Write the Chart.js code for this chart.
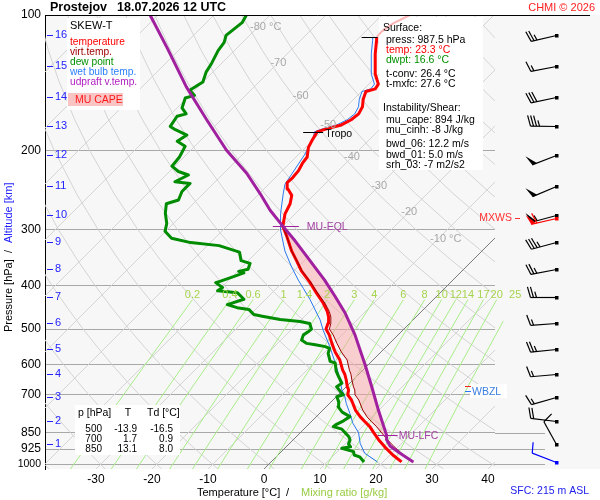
<!DOCTYPE html>
<html lang="cs">
<head>
<meta charset="UTF-8" />
<title>Prostejov 18.07.2026 12 UTC - SKEW-T</title>
<script src="https://cdn.jsdelivr.net/npm/chart.js"></script>
<style>
  body { margin: 0; background: #fff; }
  canvas { display: block; }
</style>
</head>
<body>
<canvas id="skewt" width="600" height="500"></canvas>
<script>
// ---- axes ----
const presTicks = [100, 200, 300, 400, 500, 600, 700, 850, 925, 1000];
const tempTicks = [-30, -20, -10, 0, 10, 20, 30, 40];
const altKm = [1, 2, 3, 4, 5, 6, 7, 8, 9, 10, 11, 12, 13, 14, 15, 16];
const altPres = [901, 802, 709, 630, 553, 484, 424, 368, 320, 278, 240, 205, 177, 152, 130, 111];
const mixVals = [0.2, 0.4, 0.6, 1, 1.4, 2, 3, 4, 6, 8, 10, 12, 14, 17, 20, 25];

// ---- sounding ----
const tempPres = [987.5, 953, 914, 885, 850, 825, 804, 784, 757, 719, 700, 683, 672, 649, 630, 617, 586, 562, 538, 515,
  500, 485, 470, 457, 438, 416, 393, 371, 352, 335, 312, 295, 277, 263, 252, 244, 236, 230, 222, 214,
  207, 197, 190, 182, 179, 176, 171, 166, 160, 154, 148, 146, 142.5, 135.5, 129, 122, 114, 112];
const tempVals = [23.3, 20.5, 17.6, 15.5, 13.1, 11.4, 9.6, 7.9, 5.8, 3.3, 1.7, 1.0, 0.2, -1.2, -2.5, -3.6, -5.9, -8.2, -10.3, -12.3,
  -13.9, -14.6, -15.6, -16.8, -19.0, -22.0, -25.2, -28.7, -31.4, -34.0, -37.3, -40.0, -41.8, -42.7, -43.9, -45.7, -47.0, -46.9, -47.1, -47.7,
  -48.0, -49.5, -50.1, -50.7, -49.5, -47.7, -46.8, -46.5, -47.1, -48.3, -49.2, -48.0, -48.3, -50.6, -52.3, -54.3, -56.4, -57.0];
const tempExtPres = [112, 108.9, 104.4, 100];
const tempExtVals = [-57.0, -57.1, -56.5, -55.0];

const tvPres = [987.5, 953, 914, 885, 850, 825, 804, 784, 757, 719, 700, 683, 672, 649, 630, 617, 586, 562, 538, 515,
  500, 485, 470, 457, 438, 416, 393, 371, 352, 335, 312, 295];
const tvVals = [25.4, 22.4, 19.3, 17.1, 14.5, 12.6, 10.8, 9.1, 7.1, 4.6, 3.0, 2.1, 1.3, -0.2, -1.4, -2.4, -4.6, -7.1, -9.4, -11.6,
  -13.3, -14.1, -15.2, -16.45, -18.7, -21.8, -25.05, -28.6, -31.35, -34.0, -37.3, -40.0];

const dewPres = [987.5, 962, 953, 937, 921, 914, 900, 883, 868, 850, 835, 824, 817, 800, 783, 765, 744, 725, 707, 700,
  695, 672, 660, 640, 620, 595, 590, 566, 552, 547, 542, 538, 529, 515, 507, 500, 486, 481, 476, 468,
  464, 452, 448, 441, 429, 415, 411, 404, 394, 391, 382, 375, 372, 368, 357, 352, 337, 326, 321, 314,
  303, 291, 276, 263, 258, 247, 237, 235, 227, 223, 217, 207, 196, 191, 185, 180, 177, 168, 166, 161,
  153, 151, 147, 141, 134, 128, 120, 115, 111, 104, 100];
const dewVals = [16.6, 14.9, 13.6, 12.9, 10.2, 11.5, 10.6, 10.2, 9.4, 8.0, 6.8, 4.8, 4.9, 5.6, 6.0, 3.8, 2.1, 1.3, 0.1, 0.9,
  0.4, -1.7, -1.4, -3.0, -4.6, -6.2, -7.4, -9.2, -9.8, -10.9, -13.0, -14.8, -16.3, -16.9, -16.6, -16.5, -17.8, -19.9, -23.8, -27.6,
  -29.4, -31.2, -33.6, -35.9, -33.9, -36.2, -40.1, -39.8, -41.9, -41.3, -39.8, -38.6, -39.8, -38.5, -39.2, -41.3, -43.1, -47.9, -53.5, -57.7,
  -60.1, -61.2, -63.3, -64.8, -63.3, -64.2, -64.2, -67.2, -66.0, -68.4, -70.5, -70.8, -71.7, -74.0, -73.4, -76.4, -77.9, -78.5, -77.3, -79.1,
  -80.3, -79.1, -80.9, -80.0, -81.2, -81.8, -82.9, -83.3, -84.2, -83.6, -84.2];

const wbPres = [987.5, 945, 898, 850, 810, 770, 732, 700, 683, 627, 600, 547, 503, 477, 430, 406, 389, 364, 335, 301,
  277, 250, 238, 226, 204, 187, 182, 179, 176, 171, 166, 160, 154, 148, 146, 142.5, 135.5, 129, 122, 114, 112];
const wbVals = [19.0, 15.2, 12.6, 10.4, 7.7, 5.4, 3.0, 1.1, -0.2, -3.8, -5.8, -10.1, -14.2, -16.6, -22.0, -25.2, -27.6, -31.1, -35.2, -39.7,
  -42.6, -45.7, -47.1, -47.7, -48.9, -50.4, -51.2, -50.2, -48.5, -47.5, -47.2, -47.8, -49.0, -49.9, -48.8, -49.0, -51.3, -53.0, -55.0, -57.1, -57.7];

const parcelPres = [987.5, 945, 910, 880, 862, 757, 671, 601, 515, 461, 423, 389, 352, 318, 295, 272, 250, 225, 200, 171, 144.5, 119, 100];
const parcelVals = [25.4, 21.5, 18.4, 16.6, 15.9, 9.9, 4.5, -0.5, -7.7, -13.3, -18.1, -22.9, -29.0, -35.2, -40.0, -45.1, -49.8, -55.9, -63.6, -72.6, -82.1, -92.2, -101.4];

const lfcPres = 862, elPres = 295, tropoPres = 182, topPres = 112, flPres = 669, wbzPres = 686;

// wind at surface and every km
const windPres = [987.5, 901, 802, 709, 630, 553, 484, 424, 368, 320, 278, 240, 205, 177, 152, 130, 111];
const windDir = [291, 331, 277, 254, 265, 264, 266, 270, 259, 255, 255, 247, 249, 271, 258, 259, 257];
const windSpd = [10, 10, 20, 15, 15, 25, 15, 25, 25, 35, 55, 50, 50, 35, 30, 15, 25];
const mxwsPres = 282.6, mxwsDir = 257, mxwsSpd = 60;

const tableRows = [["500", "-13.9", "-16.5"], ["700", "1.7", "0.9"], ["850", "13.1", "8.0"]];
const isoLabelT = [-80, -70, -60, -50, -40, -30, -20, -10];
const isoLabelP = [106.3, 127.6, 151.6, 175.5, 207, 240, 274, 315];

// ---- skew-T geometry ----
const P_TOP = 100, P_BOT = 1024;
const X_MIN = -39.1, X_MAX = 41.25;
const AREA_W = 450, AREA_H = 454;
const SKEW = (AREA_H / Math.log(P_BOT / P_TOP)) / (AREA_W / (X_MAX - X_MIN));
const skew = (t, p) => t + SKEW * Math.log(P_BOT / p);
const toPts = (pres, vals) => pres.map((p, i) => ({ x: skew(vals[i], p), y: p }));

function atP(pres, vals, p) {
    for (let i = 0; i < pres.length - 1; i++) {
        if (p <= pres[i] && p >= pres[i + 1]) {
            const f = Math.log(pres[i] / p) / Math.log(pres[i] / pres[i + 1]);
            return vals[i] + f * (vals[i + 1] - vals[i]);
        }
    }
    return vals[vals.length - 1];
}
function dewFromMix(w, p) {
    const l = Math.log(w * p / (622 + w) / 6.112);
    return 243.5 * l / (17.67 - l);
}

function lineDs(data, color, width, order, extra) {
    return Object.assign({ data, showLine: true, borderColor: color, borderWidth: width, pointRadius: 0,
        fill: false, tension: 0, order, borderJoinStyle: "round" }, extra || {});
}

const datasets = [];
// isotherms
for (let t = -130; t <= 40; t += 10) {
    datasets.push(lineDs([{ x: skew(t, P_BOT), y: P_BOT }, { x: skew(t, P_TOP), y: P_TOP }],
        t === 0 ? "#7a7a7a" : "#d4d4d4", 1, t === 0 ? 9 : 10));
}
// dry adiabats
const adiaLevels = [1024, 1000, 950, 900, 850, 800, 750, 700, 650, 600, 550, 500, 450, 400, 350, 300, 250, 200, 170, 140, 120, 100];
for (let th = 233.15; th <= 473.15; th += 10) {
    datasets.push(lineDs(adiaLevels.map(p => ({ x: skew(th * Math.pow(p / 1000, 0.2857) - 273.15, p), y: p })), "#d4d4d4", 1, 10));
}
// mixing ratio lines
const mixLevels = [1024, 950, 850, 750, 650, 550, 480, 430];
for (const w of mixVals) {
    datasets.push(lineDs(mixLevels.map(p => ({ x: skew(dewFromMix(w, p), p), y: p })), "#a8ee88", 1, 8, { clip: false }));
}

// CAPE polygon: parcel up from LFC to EL, environment Tv back down
const capeUp = parcelPres.map((p, i) => ({ x: skew(parcelVals[i], p), y: p })).filter(d => d.y <= lfcPres && d.y >= elPres);
const capeDown = tvPres.map((p, i) => ({ x: skew(tvVals[i], p), y: p })).filter(d => d.y <= lfcPres && d.y >= elPres).reverse();

datasets.push(lineDs(capeUp.concat(capeDown), "rgba(0,0,0,0)", 1, 6,
    { fill: "shape", backgroundColor: "rgba(248,160,160,0.48)", profile: true }));
datasets.push(lineDs(toPts(wbPres, wbVals), "#2a78f0", 1, 5, { profile: true }));
datasets.push(lineDs(toPts(dewPres, dewVals), "#008c00", 3, 4, { profile: true }));
datasets.push(lineDs(toPts(tempExtPres, tempExtVals), "#ffb4b4", 2, 3, { profile: true }));
datasets.push(lineDs(toPts(tempPres, tempVals), "#ff0000", 3, 3, { profile: true }));
datasets.push(lineDs(toPts(tvPres, tvVals), "#9a0000", 1, 2, { profile: true }));
datasets.push(lineDs(toPts(parcelPres, parcelVals), "#a0209f", 3, 1, { profile: true }));

// ---- drawing helpers ----
const FONT = "'Liberation Sans', Arial, sans-serif";
function text(ctx, s, x, y, color, size, align, bold) {
    ctx.font = (bold ? "bold " : "") + size + "px " + FONT;
    ctx.fillStyle = color;
    ctx.textAlign = align || "left";
    ctx.textBaseline = "middle";
    ctx.fillText(s, x, y);
}
function hline(ctx, x1, x2, y, color) {
    ctx.strokeStyle = color;
    ctx.lineWidth = 1;
    ctx.beginPath();
    ctx.moveTo(x1, Math.round(y) + 0.5);
    ctx.lineTo(x2, Math.round(y) + 0.5);
    ctx.stroke();
}
function drawBarb(ctx, x0, y0, dir, spd, color) {
    const L = 26, B = 11, step = 3;
    const x = Math.round(x0) + 0.5, y = Math.round(y0) + 0.5;
    const a = dir * Math.PI / 180;
    const sx = Math.sin(a), sy = -Math.cos(a);
    const nx = -sy, ny = sx;
    const tx = x + L * sx, ty = y + L * sy;
    ctx.strokeStyle = color;
    ctx.fillStyle = color;
    ctx.lineWidth = 1.2;
    ctx.beginPath();
    ctx.moveTo(x, y);
    ctx.lineTo(tx, ty);
    ctx.stroke();
    ctx.fillRect(x - 1.5, y - 1.5, 3.5, 3.5);
    let rest = Math.round(spd / 5) * 5, pos = 0;
    while (rest >= 50) {
        const ax = tx - pos * sx, ay = ty - pos * sy;
        ctx.beginPath();
        ctx.moveTo(ax, ay);
        ctx.lineTo(ax + B * (0.95 * nx + 0.3 * sx), ay + B * (0.95 * ny + 0.3 * sy));
        ctx.lineTo(tx - (pos + 5) * sx, ty - (pos + 5) * sy);
        ctx.closePath();
        ctx.fill();
        pos += 6;
        rest -= 50;
    }
    if (pos === 0 && rest < 10) pos = step;
    while (rest >= 5) {
        const len = rest >= 10 ? B : B * 0.55;
        const qx = tx - pos * sx, qy = ty - pos * sy;
        ctx.beginPath();
        ctx.moveTo(qx, qy);
        ctx.lineTo(qx + len * (0.96 * nx + 0.28 * sx), qy + len * (0.96 * ny + 0.28 * sy));
        ctx.stroke();
        pos += step;
        rest -= rest >= 10 ? 10 : 5;
    }
}

let boxesDrawn = false;
const skewPlugin = {
    id: "skewt",
    beforeDraw(chart) {
        const { ctx, chartArea: a } = chart;
        ctx.save();
        ctx.fillStyle = "#ffffff";
        ctx.fillRect(0, 0, chart.width, chart.height);
        ctx.fillStyle = "#f7f7f7";
        ctx.fillRect(a.left, a.top, chart.width - a.left, a.bottom - a.top);
        ctx.restore();
        boxesDrawn = false;
    },
    beforeDatasetDraw(chart, args) {
        if (boxesDrawn || !chart.data.datasets[args.index].profile) return;
        boxesDrawn = true;
        const ctx = chart.ctx;
        ctx.save();
        ctx.fillStyle = "#ffffff";
        ctx.fillRect(67, 18, 73, 92);
        ctx.fillRect(379, 17, 104, 153);
        ctx.fillRect(75, 405, 105, 50);
        ctx.fillRect(470, 384, 37, 14);
        ctx.restore();
    },
    afterDraw(chart) {
        const { ctx, chartArea: a } = chart;
        const xs = chart.scales.x, ys = chart.scales.y;
        const X = (t, p) => xs.getPixelForValue(skew(t, p));
        const Y = p => ys.getPixelForValue(p);
        ctx.save();

        hline(ctx, a.left, 590, Y(100), "#000");
        for (const p of [850, 925, 1000]) hline(ctx, a.right, a.right + 50, Y(p), "#a8a8a8");

        // isotherm labels
        isoLabelT.forEach((t, i) => {
            ctx.font = "11px " + FONT;
            const w = ctx.measureText(String(t)).width;
            const s = (t === -80 || t === -10) ? t + " °C" : String(t);
            text(ctx, s, X(t, isoLabelP[i]) - w / 2, Y(isoLabelP[i]), "#a8a8a8", 11);
        });
        // mixing ratio labels
        mixVals.forEach(w => {
            text(ctx, String(w), X(dewFromMix(w, 430), 430), Y(430) - 5, "#a6d44e", 11, "center");
        });

        // altitude ticks
        altKm.forEach((k, i) => {
            const y = Y(altPres[i]);
            hline(ctx, a.left + 2, a.left + 8, y, "#2222ff");
            text(ctx, String(k), a.left + 10, y, "#2222ff", 11);
        });

        // markers
        const xTop = X(tempVals[tempVals.length - 1], topPres);
        hline(ctx, xTop - 15, xTop + 1, Y(topPres), "#000");
        const xTr = X(atP(tempPres, tempVals, tropoPres), tropoPres);
        hline(ctx, xTr - 14, xTr + 6, Y(tropoPres), "#000");
        text(ctx, "Tropo", xTr + 8, Y(tropoPres) + 2, "#000", 10.5);
        const xEl = X(atP(parcelPres, parcelVals, elPres), elPres);
        hline(ctx, xEl - 10, xEl + 16, Y(elPres), "#a0209f");
        text(ctx, "MU-EQL", xEl + 24, Y(elPres) + 1, "#a040a0", 10.5);
        const xLfc = X(atP(parcelPres, parcelVals, lfcPres), lfcPres);
        hline(ctx, xLfc - 9, xLfc + 11, Y(lfcPres), "#a0209f");
        text(ctx, "MU-LFC", xLfc + 12, Y(lfcPres) + 1, "#a040a0", 10.5);
        hline(ctx, 465, 471, Y(flPres), "#ff2020");
        hline(ctx, 465, 471, Y(wbzPres), "#2a78f0");
        text(ctx, "WBZL", 472, Y(wbzPres) + 1, "#3a7ee0", 10.5);

        // wind barbs
        const bx = a.right + 61;
        windPres.forEach((p, i) => {
            drawBarb(ctx, bx, Y(p), windDir[i], windSpd[i], i === 0 ? "#0000ff" : "#000");
        });
        drawBarb(ctx, bx, Y(mxwsPres), mxwsDir, mxwsSpd, "#ff0000");
        text(ctx, "MXWS", 512, Y(mxwsPres), "#ff3030", 10.5, "right");
        hline(ctx, 515, 520, Y(mxwsPres), "#ff3030");

        // title
        text(ctx, "Prostejov", 50, 8, "#000", 12.5, "left", true);
        text(ctx, "18.07.2026 12 UTC", 117, 8, "#000", 12.5, "left", true);
        text(ctx, "CHMI © 2026", 595, 8, "#ff2020", 11, "right");

        // legend
        text(ctx, "SKEW-T", 70, 26, "#000", 11);
        [["temperature", "#ff0000"], ["virt.temp.", "#a00000"], ["dew point", "#009000"],
         ["wet bulb temp.", "#2a80ff"], ["udpraft v.temp.", "#b020c0"]].forEach(([s, c], i) => {
            text(ctx, s, 70, 42 + i * 10, c, 10.2);
        });
        ctx.fillStyle = "#f9c4c4";
        ctx.fillRect(68, 93, 55, 13);
        text(ctx, "MU CAPE", 75, 100, "#ff1a1a", 10.5);

        // surface / instability box
        text(ctx, "Surface:", 383, 28, "#000", 10.5);
        [["press: 987.5 hPa", "#000", 40], ["temp: 23.3 °C", "#ff0000", 50], ["dwpt: 16.6 °C", "#009000", 60],
         ["t-conv: 26.4 °C", "#000", 74], ["t-mxfc: 27.6 °C", "#000", 84]].forEach(([s, c, y]) => text(ctx, s, 386, y, c, 10.5));
        text(ctx, "Instability/Shear:", 383, 108, "#000", 10.5);
        [["mu_cape: 894 J/kg", 120], ["mu_cinh: -8 J/kg", 130], ["bwd_06: 12.2 m/s", 144],
         ["bwd_01: 5.0 m/s", 155], ["srh_03: -7 m2/s2", 165]].forEach(([s, y]) => text(ctx, s, 386, y, "#000", 10.5));

        // standard levels table
        text(ctx, "p [hPa]", 78, 413, "#000", 10.5);
        text(ctx, "T", 128, 413, "#000", 10.5, "center");
        text(ctx, "Td [°C]", 147, 413, "#000", 10.5);
        tableRows.forEach((r, i) => {
            const y = 429 + i * 10;
            text(ctx, r[0], 102, y, "#000", 10, "right");
            text(ctx, r[1], 137, y, "#000", 10, "right");
            text(ctx, r[2], 173, y, "#000", 10, "right");
        });

        // axis titles
        text(ctx, "Temperature [°C]", 197, 493, "#000", 11);
        text(ctx, "/", 286, 493, "#000", 11);
        text(ctx, "Mixing ratio [g/kg]", 301, 493, "#99cc44", 11);
        text(ctx, "SFC: 215 m ASL", 589, 491, "#2020ee", 10.5, "right");
        ctx.save();
        ctx.translate(9, 0);
        ctx.rotate(-Math.PI / 2);
        text(ctx, "Pressure [hPa]", -332, 0, "#000", 11);
        text(ctx, "/", -253, 0, "#000", 11);
        text(ctx, "Altitude [km]", -243, 0, "#2222ff", 11);
        ctx.restore();

        ctx.restore();
    }
};

const ctx = document.getElementById("skewt").getContext("2d");
const chart = new Chart(ctx, {
    type: "scatter",
    data: { datasets },
    options: {
        responsive: false,
        animation: false,
        events: [],
        layout: { padding: { top: 15, right: 105, bottom: 0, left: 0 } },
        scales: {
            x: {
                type: "linear",
                min: X_MIN,
                max: X_MAX,
                afterBuildTicks: s => { s.ticks = tempTicks.map(v => ({ value: v })); },
                afterFit: s => { s.height = 31; },
                grid: { display: false, drawTicks: false },
                border: { display: false },
                ticks: { padding: 3, color: "#000", font: { family: FONT, size: 12 }, callback: v => String(v) }
            },
            y: {
                type: "logarithmic",
                reverse: true,
                min: P_TOP,
                max: P_BOT,
                afterBuildTicks: s => { s.ticks = presTicks.map(v => ({ value: v })); },
                afterFit: s => { s.width = 45; },
                grid: { color: "#a8a8a8", lineWidth: 1, drawTicks: false },
                border: { display: true, color: "#000", width: 1 },
                ticks: {
                    padding: 4,
                    color: "#000",
                    font: c => ({ family: FONT, size: c.tick && c.tick.value === 1000 ? 10.5 : 12 }),
                    callback: v => String(v)
                }
            }
        },
        plugins: {
            legend: { display: false },
            tooltip: { enabled: false },
            title: { display: false }
        }
    },
    plugins: [skewPlugin]
});
</script>
</body>
</html>
